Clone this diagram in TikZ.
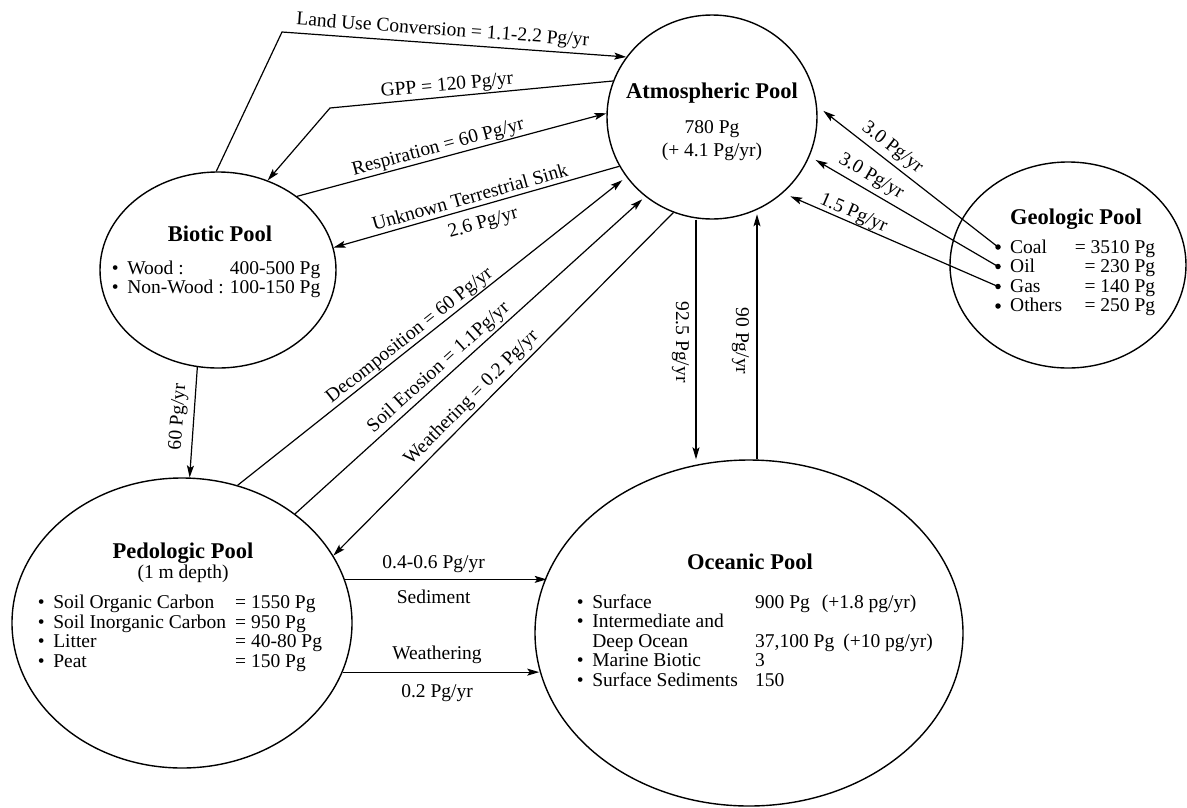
\documentclass[tikz,border=0pt]{standalone}
\usepackage{fontspec}
\setmainfont{Liberation Serif}
\usetikzlibrary{arrows.meta,shapes.geometric}
\newcommand{\mytxt}{\fontsize{19.5}{19.6}\selectfont}
\newcommand{\myttl}{\fontsize{22.5}{24}\selectfont\bfseries}
\newcommand{\bul}{\makebox[15.5pt][l]{\textbullet}}
\newcommand{\cola}[2]{\makebox[#1][l]{#2}}
\begin{document}
\begin{tikzpicture}[x=1pt,y=-1pt,
  pool/.style={draw, ellipse, line width=1.4pt, inner sep=0pt},
  flow/.style={line width=1.2pt},
  arr/.style={flow, -{Stealth[length=12pt,width=7pt,inset=2.5pt]}},
  lbl/.style={font=\mytxt, inner sep=0pt, text height=13.5pt, text depth=4.3pt},
  vlbl/.style={font=\mytxt, text height=13.5pt, text depth=4.3pt, rotate=-90, anchor=north},
  ttl/.style={font=\myttl, inner sep=0pt, anchor=base},
  txt/.style={font=\mytxt, inner sep=0pt},
  gdot/.style={circle, fill, inner sep=0pt, minimum size=5.5pt}]
\useasboundingbox (0,0) rectangle (1187,807);
\fill[white] (0,0) rectangle (1187,807);

% pools
\node[pool, minimum width=210pt, minimum height=204pt] (atm) at (712,117) {};
\node[pool, minimum width=236pt, minimum height=196pt] (bio) at (218,270) {};
\node[pool, minimum width=340pt, minimum height=290pt] (pedo) at (182,623) {};
\node[pool, minimum width=428pt, minimum height=346pt] (ocean) at (749,633) {};
\node[pool, minimum width=236pt, minimum height=206pt] (geo) at (1068,265) {};

% atmospheric text
\node[ttl] (atmT) at (712,98) {Atmospheric Pool};
\node[txt, anchor=base] (atmV) at (712,133) {780 Pg};
\node[txt, anchor=base] (atmR) at (712,156) {(+ 4.1 Pg/yr)};

% biotic text
\node[ttl] (bioT) at (220,241) {Biotic Pool};
\node[txt, anchor=base west] (bioL) at (111.6,274) {\begin{tabular}[t]{@{}l@{}l@{}}
\cola{118pt}{\bul Wood :} & 400-500 Pg\\
\cola{118pt}{\bul Non-Wood :} & 100-150 Pg
\end{tabular}};

% pedologic text
\node[ttl] (pedoT) at (183,558) {Pedologic Pool};
\node[txt, anchor=base] (pedoD) at (183,578) {(1 m depth)};
\node[txt, anchor=base west] (pedoL) at (37.6,608.5) {\begin{tabular}[t]{@{}l@{}l@{}}
\cola{197.4pt}{\bul Soil Organic Carbon} & = 1550 Pg\\
\cola{197.4pt}{\bul Soil Inorganic Carbon} & = 950 Pg\\
\cola{197.4pt}{\bul Litter} & = 40-80 Pg\\
\cola{197.4pt}{\bul Peat} & = 150 Pg
\end{tabular}};

% oceanic text
\node[ttl] (oceT) at (750,569) {Oceanic Pool};
\node[txt, anchor=base west] (oceL) at (576.6,608) {\begin{tabular}[t]{@{}l@{}l@{}}
\cola{178.4pt}{\bul Surface} & 900 Pg\hspace{12pt}(+1.8 pg/yr)\\
\cola{178.4pt}{\bul Intermediate and} & \\
\cola{178.4pt}{\hspace{15.5pt}Deep Ocean} & 37,100 Pg\hspace{9pt}(+10 pg/yr)\\
\cola{178.4pt}{\bul Marine Biotic} & 3\\
\cola{178.4pt}{\bul Surface Sediments} & 150
\end{tabular}};

% geologic text
\node[ttl] (geoT) at (1076,224) {Geologic Pool};
\node[txt, anchor=base west] (geoL) at (1010,253) {\begin{tabular}[t]{@{}l@{}r@{}}
\cola{64pt}{Coal} & \makebox[81pt][r]{= 3510 Pg}\\
\cola{64pt}{Oil} & \makebox[81pt][r]{= 230 Pg}\\
\cola{64pt}{Gas} & \makebox[81pt][r]{= 140 Pg}\\
\cola{64pt}{Others} & \makebox[81pt][r]{= 250 Pg}
\end{tabular}};
\node[gdot] (gcoal) at (998,247) {};
\node[gdot] (goil) at (998,266.5) {};
\node[gdot] (ggas) at (998,286.5) {};
\node[gdot] (goth) at (998,306) {};

% helper coordinates
\coordinate (luc) at (282,32);
\coordinate (gppc) at (330,108);
\coordinate (x92) at (696,0);
\coordinate (x90) at (757,0);

% biotic <-> atmosphere
\draw[arr] (bio.91) -- (luc) -- node[lbl, sloped, above=3.2pt, pos=0.464] {Land Use Conversion = 1.1-2.2 Pg/yr} (atm.145.4);
\draw[arr] (atm.160.7) -- node[lbl, sloped, above=1.2pt, pos=0.583] {GPP = 120 Pg/yr} (gppc) -- (bio.61);
\draw[arr] (bio.43.9) -- node[lbl, sloped, above=0.8pt, pos=0.465] {Respiration = 60 Pg/yr} (atm.178.9);
\draw[arr] (atm.208) -- node[lbl, sloped, above=0pt, pos=0.512] {Unknown Terrestrial Sink}
  node[lbl, sloped, below=8.3pt, pos=0.493] {2.6 Pg/yr} (bio.11.1);

% pedologic <-> atmosphere
\draw[arr, shorten >=5pt] (pedo.68) -- node[lbl, sloped, above=0.6pt, pos=0.459] {Decomposition = 60 Pg/yr} (atm.215.2);
\draw[arr, shorten >=4pt] (pedo.44.7) -- node[lbl, sloped, above=2.3pt, pos=0.433] {Soil Erosion = 1.1Pg/yr} (atm.230.3);
\draw[arr] (atm.248.7) -- node[lbl, sloped, above=3.1pt, pos=0.567] {Weathering = 0.2 Pg/yr} (pedo.24.9);

% biotic -> pedologic
\draw[arr] (bio.258.5) -- node[lbl, sloped, above=6pt, pos=0.461] {60 Pg/yr} (pedo.87.6);

% atmosphere <-> ocean
\draw[arr] (x92 |- atm.south) -- node[vlbl, inner sep=5.7pt, pos=0.51] {92.5 Pg/yr} (x92 |- ocean.north);
\draw[arr, shorten >=3pt] (x90 |- ocean.north) -- node[vlbl, inner sep=6.7pt, pos=0.477] {90 Pg/yr} (x90 |- atm.-66);

% pedologic -> ocean
\draw[arr] (pedo.15.6) -- node[lbl, above=5.7pt, pos=0.44] {0.4-0.6 Pg/yr}
  node[lbl, below=9.7pt, pos=0.44] {Sediment} (pedo.15.6 -| ocean.164.8);
\draw[arr] (pedo.-17) -- node[lbl, above=7.7pt, pos=0.48] {Weathering}
  node[lbl, below=11pt, pos=0.48] {0.2 Pg/yr} (pedo.-17 -| ocean.190.6);

% geologic -> atmosphere
\draw[arr, shorten >=8pt] (gcoal.center) -- node[lbl, sloped, above=3.9pt, pos=0.63] {3.0 Pg/yr} (atm.6);
\draw[arr, shorten >=7pt] (goil.center) -- node[lbl, sloped, above=4.2pt, pos=0.71] {3.0 Pg/yr} (atm.-22.2);
\draw[arr, shorten >=8pt] (ggas.center) -- node[lbl, sloped, above=0pt, pos=0.69] {1.5 Pg/yr} (atm.-47.5);
\end{tikzpicture}
\end{document}
